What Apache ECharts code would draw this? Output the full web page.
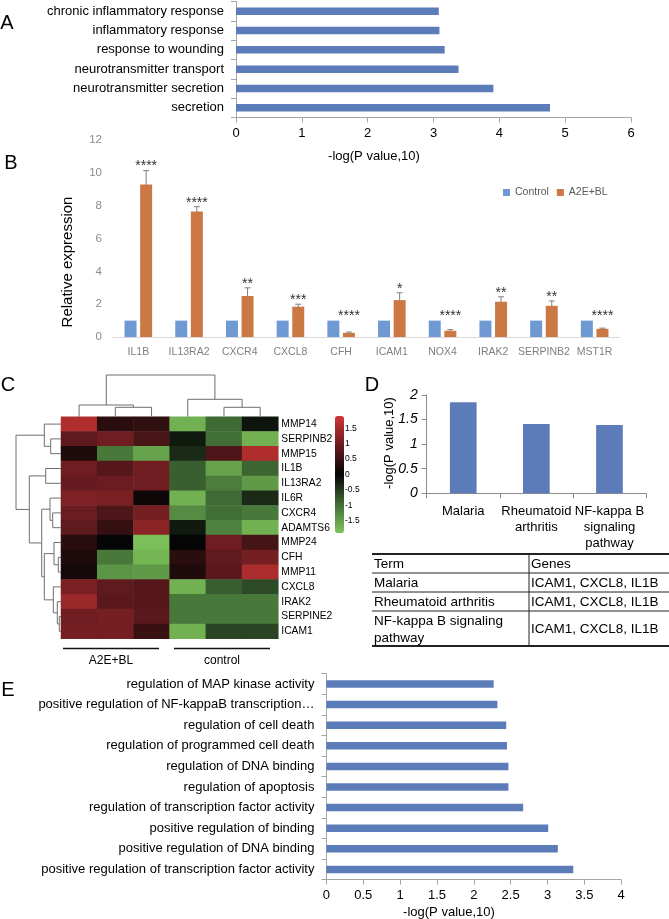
<!DOCTYPE html>
<html><head><meta charset="utf-8">
<script src="https://cdn.jsdelivr.net/npm/echarts@6/dist/echarts.min.js"></script>
<style>html,body{margin:0;padding:0;background:#fff}#c{width:669px;height:919px}</style>
</head><body><div id="c"></div>
<script>
// ---------- Panel A ----------
const aTerms = ['chronic inflammatory response','inflammatory response','response to wounding','neurotransmitter transport','neurotransmitter secretion','secretion'];
const aValues = [3.08, 3.09, 3.17, 3.38, 3.91, 4.77];

// ---------- Panel B ----------
const bGenes = ['IL1B','IL13RA2','CXCR4','CXCL8','CFH','ICAM1','NOX4','IRAK2','SERPINB2','MST1R'];
const bControl = [1,1,1,1,1,1,1,1,1,1];
const bTreated = [9.3,7.65,2.5,1.85,0.25,2.25,0.38,2.15,1.9,0.5];
const bTreatedErr = [0.85,0.3,0.5,0.15,0.05,0.45,0.07,0.3,0.3,0.04];
const bStars = ['****','****','**','***','****','*','****','**','**','****'];
const bSeriesNames = ['Control','A2E+BL'];

// ---------- Panel C ----------
const cRows = ['MMP14','SERPINB2','MMP15','IL1B','IL13RA2','IL6R','CXCR4','ADAMTS6','MMP24','CFH','MMP11','CXCL8','IRAK2','SERPINE2','ICAM1'];
const cCols = ['A2E+BL 1','A2E+BL 2','A2E+BL 3','control 1','control 2','control 3'];
const cValues = [
  [1.6, 0.35, 0.4, -1.7, -0.95, -0.15],
  [0.85, 1.0, 0.65, -0.2, -1.0, -1.7],
  [0.25, -1.1, -1.55, -0.35, 0.7, 1.6],
  [1.0, 0.75, 1.0, -0.85, -1.55, -0.9],
  [0.9, 0.95, 1.0, -0.85, -1.15, -1.45],
  [1.15, 1.1, 0.1, -1.7, -0.95, -0.35],
  [0.95, 0.7, 1.05, -1.3, -1.0, -1.1],
  [0.85, 0.45, 1.25, -0.2, -1.2, -1.7],
  [0.35, 0.0, -1.85, 0.0, 1.0, 0.6],
  [0.25, -1.1, -1.75, 0.35, 0.85, 1.05],
  [0.15, -1.4, -1.45, 0.25, 0.8, 1.55],
  [1.1, 0.85, 0.75, -1.7, -0.85, -0.65],
  [1.4, 0.8, 0.75, -1.1, -1.1, -1.1],
  [1.0, 1.05, 0.8, -1.1, -1.1, -1.1],
  [1.05, 1.05, 0.5, -1.7, -0.6, -0.6]
];
const cGroups = ['A2E+BL','control'];
// linkage: [childA, childB, height]; leaves 0..n-1, merged clusters n, n+1, ...
const cColLinkage = [[1,2,9.4],[0,6,11.7],[4,5,9.4],[3,8,17.4],[7,9,41.7]];
const cRowLinkage = [[1,2,10.3],[0,15,16.7],[3,4,15.3],[6,7,8.3],[5,18,11],[9,10,2.7],[8,20,7],[13,14,1.7],[12,22,3.7],[11,23,7.7],[21,24,16.7],[19,25,19.3],[17,26,31.7],[16,27,45]];
const cScaleTicks = [-1.5,-1,-0.5,0,0.5,1,1.5];

// ---------- Panel D ----------
const dTerms = ['Malaria','Rheumatoid\narthritis','NF-kappa B\nsignaling\npathway'];
const dValues = [1.85, 1.41, 1.39];
const dTableHeader = ['Term','Genes'];
const dTableTerms = ['Malaria','Rheumatoid arthritis','NF-kappa B signaling\npathway'];
const dTableGenes = ['ICAM1, CXCL8, IL1B','ICAM1, CXCL8, IL1B','ICAM1, CXCL8, IL1B'];

// ---------- Panel E ----------
const eTerms = ['regulation of MAP kinase activity','positive regulation of NF-kappaB transcription\u2026','regulation of cell death','regulation of programmed cell death','regulation of DNA binding','regulation of apoptosis','regulation of transcription factor activity','positive regulation of binding','positive regulation of DNA binding','positive regulation of transcription factor activity'];
const eValues = [2.27, 2.32, 2.44, 2.45, 2.47, 2.47, 2.67, 3.01, 3.14, 3.35];

const FONT = '"Liberation Sans", Arial, sans-serif';
const AXC = '#A6A6A6';
const BARC = '#5B7CB8';

function buildDendro(n, linkage){
  const pos = [], ht = [];
  for (let i = 0; i < n; i++){ pos.push(i + 0.5); ht.push(0); }
  const segs = [];
  linkage.forEach(function(m){
    const a = m[0], b = m[1], h = m[2];
    segs.push([pos[a], ht[a], pos[b], ht[b], h]);
    pos.push((pos[a] + pos[b]) / 2); ht.push(h);
  });
  return segs;
}
function dendroItem(horizontal){
  return function(params, api){
    const pa = api.value(0), ha = api.value(1), pb = api.value(2), hb = api.value(3), h = api.value(4);
    const pt = horizontal ? function(p, hh){ return api.coord([hh, p]); } : function(p, hh){ return api.coord([p, hh]); };
    return {type:'polyline', shape:{points:[pt(pa,ha), pt(pa,h), pt(pb,h), pt(pb,hb)]},
      style:{stroke:'#6E6E6E', lineWidth:1, fill:null}};
  };
}

const heatData = [];
cValues.forEach(function(row, r){ row.forEach(function(v, c){ heatData.push([c, r, v]); }); });

const chart = echarts.init(document.getElementById('c'), null, {renderer:'canvas', width:669, height:919});

const graphics = [];
function txt(x, y, text, size, extra){
  const o = {type:'text', x:x, y:y, style:Object.assign({text:text, font: size + 'px ' + FONT, fill:'#000', textAlign:'center', textVerticalAlign:'middle'}, extra || {})};
  graphics.push(o);
}
// panel letters
txt(7, 23, 'A', 20); txt(11, 163, 'B', 20); txt(8, 385, 'C', 20); txt(372, 385, 'D', 20); txt(8, 690, 'E', 20);
// axis titles
txt(374, 156, '-log(P value,10)', 13);
txt(449, 912, '-log(P value,10)', 13);
graphics.push({type:'text', x:68, y:262, rotation:Math.PI/2, style:{text:'Relative expression', font:'15px ' + FONT, fill:'#000', textAlign:'center', textVerticalAlign:'middle'}});
graphics.push({type:'text', x:389, y:443, rotation:Math.PI/2, style:{text:'-log(P value,10)', font:'13px ' + FONT, fill:'#000', textAlign:'center', textVerticalAlign:'middle'}});
// heatmap group lines + labels
const grpSpans = [[63,159],[174,270]];
cGroups.forEach(function(g, i){
  graphics.push({type:'line', shape:{x1:grpSpans[i][0], y1:648.5, x2:grpSpans[i][1], y2:648.5}, style:{stroke:'#111', lineWidth:1.5}});
  txt((grpSpans[i][0] + grpSpans[i][1]) / 2, 661, g, 12);
});
// table D
(function(){
  const top = 554, rowH = [19, 19, 19, 35], left = 372, right = 669, div = 529;
  const ys = [top];
  rowH.forEach(function(h){ ys.push(ys[ys.length - 1] + h); });
  ys.forEach(function(y, i){
    const thick = (i === 0 || i === ys.length - 1);
    graphics.push({type:'line', shape:{x1:left, y1:y, x2:right, y2:y}, style:{stroke:'#222', lineWidth: thick ? 2 : 1}});
  });
  graphics.push({type:'line', shape:{x1:div, y1:top, x2:div, y2:ys[ys.length-1]}, style:{stroke:'#222', lineWidth:1}});
  const rows = [dTableHeader].concat(dTableTerms.map(function(t, i){ return [t, dTableGenes[i]]; }));
  rows.forEach(function(r, i){
    const cy = (ys[i] + ys[i+1]) / 2 + 1;
    graphics.push({type:'text', x:left + 2, y:cy, style:{text:r[0], font:'13.5px ' + FONT, fill:'#000', textAlign:'left', textVerticalAlign:'middle', lineHeight:17}});
    graphics.push({type:'text', x:div + 2, y:cy, style:{text:r[1], font:'13.5px ' + FONT, fill:'#000', textAlign:'left', textVerticalAlign:'middle'}});
  });
})();

const noBounds = {outerBoundsMode:'none', containLabel:false};
const option = {
  backgroundColor:'#fff',
  animation:false,
  textStyle:{fontFamily:FONT},
  graphic:graphics,
  legend:{data:bSeriesNames, left:503, top:187, itemWidth:7, itemHeight:7, itemGap:8, icon:'rect', selectedMode:false,
    textStyle:{fontSize:10.5, color:'#595959', fontFamily:FONT}, padding:0},
  visualMap:{type:'continuous', seriesIndex:4, min:-1.9, max:1.9, left:335, top:416, itemWidth:9, itemHeight:117,
    padding:0, calculable:false, hoverLink:false, text:null, showLabel:false,
    inRange:{color:['#7EC45A','#3F6A35','#050505','#6A1C20','#D03535']}},
  grid:[
    Object.assign({left:236, top:1.5, width:395, height:116}, noBounds),
    Object.assign({left:113, top:140.3, width:507, height:196.7}, noBounds),
    Object.assign({left:61, top:416.7, width:217.3, height:222}, noBounds),
    Object.assign({left:61, top:372, width:217.3, height:44.7}, noBounds),
    Object.assign({left:16, top:416.7, width:45, height:222}, noBounds),
    Object.assign({left:330, top:412.9, width:13, height:123.2}, noBounds),
    Object.assign({left:426.7, top:395, width:219.3, height:98.3}, noBounds),
    Object.assign({left:326.4, top:673.7, width:294.8, height:206}, noBounds)
  ],
  xAxis:[
    {gridIndex:0, type:'value', min:0, max:6, interval:1, axisLine:{show:true, lineStyle:{color:AXC}}, axisTick:{show:true, length:5, lineStyle:{color:AXC}}, splitLine:{show:false}, axisLabel:{fontSize:13, color:'#000', margin:9, fontFamily:FONT}},
    {gridIndex:1, type:'category', data:bGenes, axisLine:{show:true, lineStyle:{color:'#D9D9D9'}}, axisTick:{show:false}, axisLabel:{fontSize:10.5, color:'#7F7F7F', margin:10, fontFamily:FONT, interval:0, hideOverlap:false}},
    {gridIndex:2, type:'category', data:cCols, show:false},
    {gridIndex:3, type:'value', min:0, max:6, show:false},
    {gridIndex:4, type:'value', min:0, max:45, inverse:true, show:false},
    {gridIndex:5, type:'value', min:0, max:1, show:false},
    {gridIndex:6, type:'category', data:dTerms, axisLine:{show:true, lineStyle:{color:'#8C8C8C'}}, axisTick:{show:true, length:5, lineStyle:{color:'#8C8C8C'}}, axisLabel:{fontSize:13, color:'#000', margin:10, lineHeight:16, fontFamily:FONT, interval:0}},
    {gridIndex:7, type:'value', min:0, max:4, interval:0.5, axisLine:{show:true, lineStyle:{color:AXC}}, axisTick:{show:true, length:5, lineStyle:{color:AXC}}, splitLine:{show:false}, axisLabel:{fontSize:13, color:'#000', margin:9, fontFamily:FONT}}
  ],
  yAxis:[
    {gridIndex:0, type:'category', data:aTerms, inverse:true, axisLine:{show:true, lineStyle:{color:AXC}}, axisTick:{show:true, length:5, lineStyle:{color:AXC}}, axisLabel:{fontSize:13, color:'#000', margin:12, fontFamily:FONT, interval:0}},
    {gridIndex:1, type:'value', min:0, max:12, interval:2, axisLine:{show:false}, axisTick:{show:false}, splitLine:{show:false}, axisLabel:{fontSize:11.5, color:'#8C8C8C', margin:11, fontFamily:FONT}},
    {gridIndex:2, type:'category', data:cRows, inverse:true, position:'right', axisLine:{show:false}, axisTick:{show:false}, axisLabel:{fontSize:10.3, color:'#000', margin:3, fontFamily:FONT, interval:0}},
    {gridIndex:3, type:'value', min:0, max:44.7, show:false},
    {gridIndex:4, type:'value', min:0, max:15, inverse:true, show:false},
    {gridIndex:5, type:'value', min:-2, max:2, interval:0.5, position:'right', axisLine:{show:false}, axisTick:{show:false}, splitLine:{show:false},
      axisLabel:{fontSize:8.5, color:'#000', margin:2, fontFamily:FONT, formatter:function(v){ return cScaleTicks.indexOf(v) >= 0 ? String(v) : ''; }}},
    {gridIndex:6, type:'value', min:0, max:2, interval:0.5, axisLine:{show:true, lineStyle:{color:'#8C8C8C'}}, axisTick:{show:true, length:5, lineStyle:{color:'#8C8C8C'}}, splitLine:{show:false}, axisLabel:{fontSize:14, fontStyle:'italic', color:'#000', margin:9, fontFamily:FONT}},
    {gridIndex:7, type:'category', data:eTerms, inverse:true, axisLine:{show:true, lineStyle:{color:AXC}}, axisTick:{show:true, length:5, lineStyle:{color:AXC}}, axisLabel:{fontSize:13, color:'#000', margin:12, fontFamily:FONT, interval:0}}
  ],
  series:[
    {type:'bar', xAxisIndex:0, yAxisIndex:0, data:aValues, barWidth:7.5, itemStyle:{color:BARC}},
    {type:'bar', name:bSeriesNames[0], xAxisIndex:1, yAxisIndex:1, data:bControl, barWidth:12, barGap:'30%', itemStyle:{color:'#6F99D2'}},
    {type:'bar', name:bSeriesNames[1], xAxisIndex:1, yAxisIndex:1, data:bTreated, barWidth:12, barGap:'30%', itemStyle:{color:'#CC7845'}},
    {type:'custom', xAxisIndex:1, yAxisIndex:1, data:bTreated.map(function(v, i){ return [i, v, bTreatedErr[i]]; }),
      renderItem:function(params, api){
        const i = api.value(0), v = api.value(1), e = api.value(2);
        const x = api.coord([i, v])[0] + 7.8;
        const top = api.coord([i, v + e])[1], bot = api.coord([i, v - e])[1];
        const ctrlTop = api.coord([i, bControl[i]])[1];
        const sy = Math.min(top, ctrlTop) - 4;
        const st = {stroke:'#7F7F7F', lineWidth:1};
        return {type:'group', children:[
          {type:'line', shape:{x1:x, y1:top, x2:x, y2:bot}, style:st},
          {type:'line', shape:{x1:x-3, y1:top, x2:x+3, y2:top}, style:st},
          {type:'line', shape:{x1:x-3, y1:bot, x2:x+3, y2:bot}, style:st},
          {type:'text', x:x, y:sy, style:{text:bStars[params.dataIndex], font:'14px ' + FONT, fill:'#333', textAlign:'center', textVerticalAlign:'middle'}}
        ]};
      }},
    {type:'heatmap', xAxisIndex:2, yAxisIndex:2, data:heatData, itemStyle:{borderWidth:0}},
    {type:'custom', xAxisIndex:3, yAxisIndex:3, data:buildDendro(cCols.length, cColLinkage), renderItem:dendroItem(false)},
    {type:'custom', xAxisIndex:4, yAxisIndex:4, data:buildDendro(cRows.length, cRowLinkage), renderItem:dendroItem(true)},
    {type:'bar', xAxisIndex:6, yAxisIndex:6, data:dValues, barWidth:26.7, itemStyle:{color:BARC}},
    {type:'bar', xAxisIndex:7, yAxisIndex:7, data:eValues, barWidth:7.5, itemStyle:{color:BARC}}
  ]
};
chart.setOption(option);
</script>
</body></html>
